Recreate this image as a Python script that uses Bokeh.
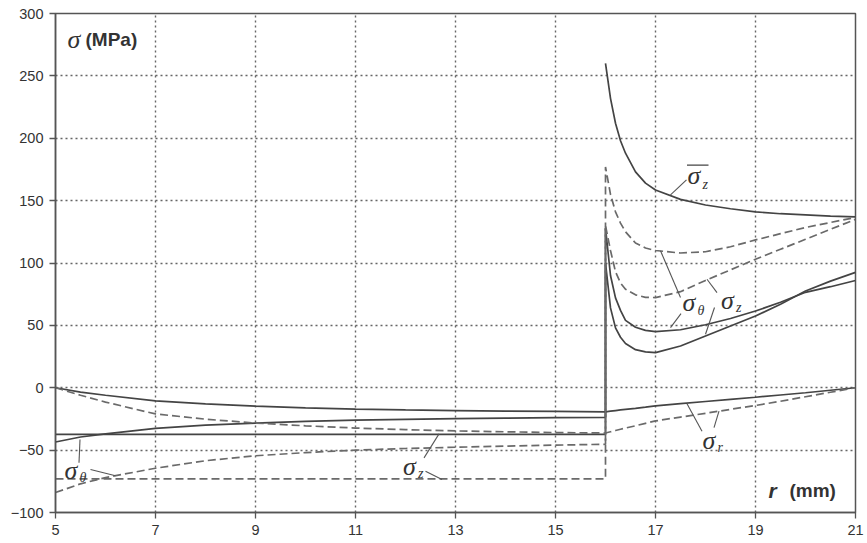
from bokeh.plotting import figure
from bokeh.embed import file_html
from bokeh.resources import INLINE
from bokeh.core.properties import value
from bokeh.models import FixedTicker

# ---------------- data ----------------
r_in = [5, 5.5, 6, 7, 8, 9, 10, 11, 12, 13, 14, 15, 16]
r_out = [16, 16.1, 16.2, 16.3, 16.4, 16.6, 16.8, 17, 17.5, 18, 18.5, 19, 19.5, 20, 20.5, 21]

# solid lines
sr_solid_in = [0, -3.5, -6, -10.5, -13, -14.8, -16.2, -17.2, -17.8, -18.3, -18.7, -19, -19.3]
sr_solid_out = [-19.3, -18.8, -18.3, -17.8, -17.4, -16.6, -15.6, -14.5, -12.7, -11, -9.3, -7.6, -5.8, -4, -2, 0]
st_solid_in = [-43.5, -39.5, -37, -32.5, -30, -28.3, -27, -26, -25.3, -24.8, -24.4, -24, -23.7]
st_solid_out = [128, 90, 72, 62, 54, 48.5, 46, 45, 46.5, 50.5, 55.5, 61.5, 68.5, 76.5, 81, 86]
sz_solid_in = [-37.3] * 13
sz_solid_out = [100, 64, 48, 40.5, 35.5, 30.5, 28.8, 28.2, 33.5, 41.5, 49.5, 57.5, 67, 77.5, 85.5, 92.5]
seq_solid_out = [260, 232, 212, 198, 188, 173, 164, 158.5, 151, 146.5, 143.5, 141, 139.5, 138.5, 137.5, 137]

# dashed lines
sr_dash_in = [0, -6, -11.5, -21, -25.2, -28.3, -30.5, -32.3, -33.6, -34.6, -35.3, -35.9, -36.3]
sr_dash_out = [-36.3, -35.3, -34.3, -33.3, -32.3, -30.5, -28.5, -26.6, -23.5, -20.5, -17.3, -14.2, -10.8, -7.2, -3.6, 0]
st_dash_in = [-84, -77, -72, -64.5, -58.5, -54.5, -52, -50, -48.7, -47.7, -46.8, -46, -45.3]
st_dash_out = [177, 155, 141, 132, 125, 116, 112, 110, 108, 109, 113, 118.5, 123.5, 128.5, 132.5, 136.5]
sz_dash_in = [-73] * 13
sz_dash_out = [130, 110, 93, 84, 79, 74.5, 72.5, 72.3, 77, 86, 94.5, 103, 111, 119, 127, 135]

x_ticks = [5, 7, 9, 11, 13, 15, 17, 19, 21]
y_ticks = [-100, -50, 0, 50, 100, 150, 200, 250, 300]

# curve labels: main glyph position, subscript text and position
lab_x = [17.64, 17.54, 18.31, 17.94, 5.18, 11.95]
lab_y = [170, 68, 70, -42, -66, -63]
sub_txt = ["z", "θ", "z", "r", "θ", "z"]
sub_x = [17.94, 17.84, 18.61, 18.24, 5.48, 12.25]
sub_y = [163, 62, 64, -48, -72, -69]
bar_x0, bar_x1, bar_y = [17.63], [18.06], [178.5]

# leader lines
ld_x0 = [17.3, 17.1, 17.3, 18.03, 18.0, 17.63, 18.27, 5.49, 5.7, 12.37, 12.4]
ld_y0 = [154.6, 109.8, 48.2, 87, 42.9, -12.8, -18.7, -41.5, -65.5, -56.2, -67]
ld_x1 = [17.62, 17.5, 17.51, 18.23, 18.18, 17.93, 18.17, 5.47, 6.2, 12.67, 12.73]
ld_y1 = [166.6, 72.3, 59.4, 76.3, 64.3, -34.8, -32, -60.2, -70.5, -37, -73.6]

# ---------------- figure ----------------
p = figure(width=866, height=542, x_range=(5, 21), y_range=(-100, 300),
           output_backend="svg", toolbar_location=None,
           min_border_left=55, min_border_right=11, min_border_top=13, min_border_bottom=30)
p.background_fill_color = "white"
p.border_fill_color = "white"
p.outline_line_color = "#555555"
p.outline_line_width = 1.5

p.xaxis.ticker = FixedTicker(ticks=x_ticks)
p.yaxis.ticker = FixedTicker(ticks=y_ticks)
for ax in (p.xaxis[0], p.yaxis[0]):
    ax.axis_line_color = "#555555"
    ax.axis_line_width = 1.5
    ax.major_tick_line_color = "#555555"
    ax.major_tick_line_width = 1.3
    ax.major_tick_in = 0
    ax.major_tick_out = 6
    ax.minor_tick_line_color = None
    ax.major_label_text_font = "Liberation Sans"
    ax.major_label_text_font_size = "14.5px"
    ax.major_label_text_color = "#333333"
    ax.major_label_standoff = 6

for g in (p.xgrid[0], p.ygrid[0]):
    g.grid_line_color = "#555555"
    g.grid_line_dash = "2 3"
    g.grid_line_width = 1.4
    g.grid_line_alpha = 0.9

sol = dict(line_color="#444444", line_width=1.7)
das = dict(line_color="#6a6a6a", line_width=1.7, line_dash="8 4")

p.line(r_in + r_out, sr_solid_in + sr_solid_out, **sol)
p.line(r_in + r_out, st_solid_in + st_solid_out, **sol)
p.line(r_in + r_out, sz_solid_in + sz_solid_out, **sol)
p.line(r_out, seq_solid_out, **sol)
p.line(r_in + r_out, sr_dash_in + sr_dash_out, **das)
p.line(r_in + r_out, st_dash_in + st_dash_out, **das)
p.line(r_in + r_out, sz_dash_in + sz_dash_out, **das)

# leaders
p.segment(ld_x0, ld_y0, ld_x1, ld_y1, line_color="#555555", line_width=1.1)

# labels
p.text(lab_x, lab_y, text=["σ"] * len(lab_x), text_font=value("Liberation Serif"),
       text_font_style="italic", text_font_size="26px", text_color="#333333",
       text_baseline="middle", text_align="left")
p.text(sub_x, sub_y, text=sub_txt, text_font=value("Liberation Serif"),
       text_font_style="italic", text_font_size="14px", text_color="#333333",
       text_baseline="middle", text_align="left")
p.segment(bar_x0, bar_y, bar_x1, bar_y, line_color="#444444", line_width=1.3)

# axis titles inside the plot
p.text([5.24], [279], text=["σ"], text_font=value("Liberation Serif"), text_font_style="italic",
       text_font_size="26px", text_color="#333333", text_baseline="middle", text_align="left")
p.text([5.6], [279], text=["(MPa)"], text_font=value("Liberation Sans"), text_font_style="bold",
       text_font_size="19px", text_color="#333333", text_baseline="middle", text_align="left")
p.text([19.26], [-82.5], text=["r"], text_font=value("Liberation Sans"), text_font_style="bold italic",
       text_font_size="21px", text_color="#333333", text_baseline="middle", text_align="left")
p.text([19.68], [-82.5], text=["(mm)"], text_font=value("Liberation Sans"), text_font_style="bold",
       text_font_size="19px", text_color="#333333", text_baseline="middle", text_align="left")

open("out.html", "w").write(file_html(p, INLINE))
